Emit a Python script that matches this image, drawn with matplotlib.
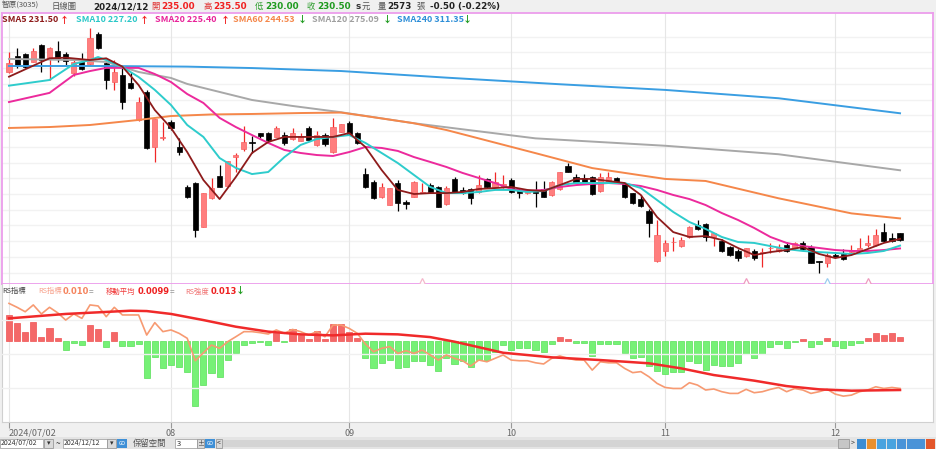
import matplotlib
matplotlib.use('Agg')
import matplotlib.pyplot as plt
from matplotlib.patches import Rectangle

plt.rcParams['font.family'] = ['Noto Sans CJK TC', 'DejaVu Sans']

# daily candles 2024/07/02 .. 2024/12/12
opens = [337.6, 347.8, 349.1, 344.0, 354.8, 346.5, 351.0, 349.1, 337.0, 344.0,
         342.7, 361.8, 343.3, 331.2, 335.7, 330.6, 307.1, 324.9, 289.9, 295.6,
         305.8, 289.9, 264.5, 267.0, 239.0, 257.5, 271.5, 265.1, 283.5, 288.6,
         293.1, 298.8, 298.8, 296.3, 297.5, 295.0, 293.7, 302.0, 291.2, 297.5,
         286.7, 299.4, 305.2, 298.8, 272.7, 267.6, 258.1, 253.0, 267.0, 254.9,
         258.1, 260.6, 265.7, 264.5, 253.6, 269.6, 262.6, 263.2, 261.3, 269.6,
         264.5, 264.5, 268.9, 262.6, 260.6, 262.6, 263.2, 259.4, 263.2, 277.8,
         270.8, 270.2, 270.8, 261.9, 267.6, 270.2, 267.0, 260.6, 256.8, 249.2,
         217.4, 223.8, 229.2, 226.9, 232.7, 240.3, 240.9, 232.7, 230.1, 226.3,
         223.8, 220.6, 223.8, 222.5, 225.4, 223.8, 227.6, 225.7, 228.9, 226.3,
         217.4, 216.1, 221.2, 221.9, 223.1, 224.4, 227.6, 227.6, 235.8, 232.0,
         235.0]
highs = [350.3, 352.9, 349.7, 352.9, 355.4, 353.5, 357.3, 350.3, 345.2, 349.7,
         365.6, 363.0, 344.0, 345.2, 340.2, 337.6, 321.7, 326.2, 307.7, 305.8,
         307.1, 295.6, 265.7, 267.6, 260.6, 270.2, 278.5, 281.0, 286.1, 303.3,
         296.9, 298.8, 299.4, 303.3, 299.4, 302.0, 298.8, 303.3, 300.1, 298.8,
         308.4, 304.5, 306.4, 299.4, 276.6, 268.9, 267.0, 263.8, 268.9, 256.2,
         268.3, 267.0, 267.0, 265.1, 265.1, 270.8, 264.5, 263.8, 272.1, 270.2,
         274.0, 272.1, 270.2, 263.8, 263.2, 268.3, 268.3, 268.3, 274.0, 279.7,
         272.7, 272.7, 271.5, 273.4, 274.0, 270.8, 267.0, 260.6, 259.4, 250.5,
         243.5, 230.8, 232.7, 232.7, 239.7, 243.5, 241.6, 235.2, 231.4, 226.9,
         225.0, 225.7, 225.0, 225.7, 228.9, 228.2, 229.5, 229.5, 230.1, 227.6,
         217.4, 222.5, 223.1, 225.0, 227.6, 232.0, 233.9, 237.8, 241.6, 235.2,
         235.5]
lows = [337.0, 340.2, 340.2, 344.0, 337.6, 332.5, 344.0, 342.1, 335.1, 338.9,
        342.1, 352.2, 326.8, 326.2, 314.1, 326.8, 306.4, 288.6, 280.4, 294.4,
        300.7, 284.8, 257.5, 232.7, 239.0, 256.8, 264.5, 265.1, 274.0, 287.4,
        286.1, 295.6, 293.7, 296.3, 291.2, 294.4, 293.7, 293.7, 290.5, 290.5,
        286.1, 299.4, 297.5, 291.8, 263.8, 256.8, 257.5, 253.0, 249.2, 250.5,
        258.1, 260.6, 260.6, 251.7, 253.0, 260.6, 260.0, 253.6, 260.6, 263.8,
        264.5, 263.8, 260.6, 257.5, 260.0, 251.7, 258.1, 258.7, 262.6, 274.0,
        267.6, 267.0, 259.4, 261.3, 267.0, 267.0, 257.5, 253.6, 251.7, 232.7,
        216.8, 220.6, 223.8, 226.3, 232.0, 237.1, 230.1, 226.9, 223.1, 220.6,
        217.4, 220.0, 218.0, 213.6, 222.5, 223.1, 223.1, 225.0, 224.4, 216.1,
        209.8, 213.6, 219.3, 218.0, 222.5, 223.8, 226.3, 226.9, 229.5, 229.5,
        230.0]
closes = [343.3, 342.1, 340.8, 351.0, 345.2, 352.9, 346.5, 344.6, 344.0, 339.5,
          359.2, 352.9, 332.5, 337.6, 318.5, 327.4, 318.5, 289.3, 307.7, 296.3,
          302.0, 286.7, 258.1, 237.1, 260.6, 263.8, 264.5, 281.0, 284.8, 293.1,
          292.5, 296.9, 294.4, 302.0, 292.5, 298.8, 296.9, 294.4, 297.5, 291.8,
          302.6, 304.5, 298.2, 292.5, 264.5, 257.5, 264.5, 263.8, 254.3, 253.6,
          267.6, 261.3, 261.3, 251.7, 263.8, 260.6, 260.6, 257.5, 265.7, 264.5,
          267.6, 266.4, 261.3, 260.6, 262.6, 260.6, 258.1, 267.6, 274.0, 274.0,
          267.6, 267.0, 260.0, 270.8, 270.8, 267.0, 258.1, 254.3, 252.4, 241.6,
          233.9, 228.9, 229.5, 230.8, 239.0, 237.8, 232.7, 235.2, 223.8, 221.2,
          219.3, 225.7, 219.3, 223.1, 225.7, 225.7, 223.8, 228.9, 225.0, 216.1,
          217.1, 221.2, 219.9, 218.7, 224.4, 225.7, 228.9, 233.9, 230.1, 230.1,
          230.5]

tick_idx = [0, 20, 42, 62, 81, 102]
tick_labels = ['2024/07/02', '08', '09', '10', '11', '12']

# moving averages (day index, price)
sma5_idx = [0, 5, 7, 10, 12, 14] + list(range(16, 111, 2))
sma5 = [334.6, 346.3, 346.7, 345.2, 346.3, 341.0,
        329.3, 313.4, 302.0, 286.7, 268.9, 256.8, 270.8, 286.1, 293.1, 296.3,
        296.3, 296.3, 296.3, 298.8, 289.9, 275.3, 262.6, 260.0, 260.6, 260.6,
        261.3, 263.2, 263.8, 264.5, 262.6, 261.9, 265.7, 269.6, 269.6, 268.3,
        267.0, 259.4, 245.4, 235.8, 232.7, 233.3, 230.8, 225.7, 221.2, 223.1,
        224.4, 226.3, 221.9, 219.3, 221.2, 225.0, 228.9, 231.5]
sma10_idx = [0, 5, 8, 10, 11, 12, 14] + list(range(16, 111, 2))
sma10 = [328.9, 332.5, 342.7, 345.2, 347.1, 345.2, 340.8,
         334.4, 326.2, 316.6, 303.9, 296.3, 282.9, 276.6, 272.7, 274.0, 283.5,
         291.2, 295.0, 296.3, 297.5, 292.5, 286.1, 279.7, 272.1, 264.5, 260.6,
         260.6, 261.3, 262.6, 262.6, 261.3, 261.9, 265.7, 267.0, 267.0, 267.0,
         267.0, 263.8, 256.2, 248.6, 242.2, 237.8, 232.7, 229.5, 228.9, 226.9,
         225.0, 223.8, 223.1, 222.5, 221.9, 222.5, 223.8, 227.2]
sma20_idx = [0, 5, 8, 10, 12, 14] + list(range(16, 111, 2))
sma20 = [318.5, 324.3, 335.7, 338.2, 340.2, 340.2,
         340.2, 336.3, 331.2, 323.6, 317.9, 308.4, 302.6, 297.5, 292.5, 288.0,
         286.1, 284.8, 284.2, 286.7, 289.9, 289.3, 287.4, 283.5, 280.4, 277.2,
         273.4, 270.2, 267.0, 263.2, 261.9, 262.6, 264.5, 265.7, 266.4, 267.0,
         266.4, 265.1, 262.6, 259.4, 256.8, 253.0, 247.9, 243.5, 238.4, 232.7,
         228.9, 226.9, 225.7, 224.4, 223.8, 223.8, 224.4, 225.4]
sma60_idx = [0, 5, 10, 16, 20, 25, 30, 36, 41, 44, 50, 54, 65, 72, 81, 86, 95, 104, 110]
sma60 = [302.0, 302.6, 303.9, 307.1, 309.6, 310.6, 310.9, 311.5, 311.8, 309.6,
         305.0, 300.7, 286.0, 276.5, 269.6, 268.3, 257.3, 247.7, 244.5]
sma120_idx = [0, 8, 12, 16, 20, 22, 26, 30, 35, 41, 50, 65, 81, 95, 110]
sma120 = [345.9, 345.2, 344.0, 337.6, 333.8, 330.0, 324.9, 319.8, 316.0, 312.0,
          305.0, 295.4, 290.7, 285.3, 275.1]
sma240_idx = [0, 12, 22, 30, 41, 54, 68, 81, 95, 110]
sma240 = [341.4, 341.4, 341.0, 340.1, 338.2, 334.0, 329.8, 326.2, 320.9, 311.35]

event_idx = [51, 91, 101, 106]
event_colors = ['#F4B8CC', '#EE9CC0', '#9CCDF0', '#EE9CC0']

# RS indicator (price / index), its moving average and the difference bars
rs_line = [0.01499, 0.01476, 0.01450, 0.01490, 0.01437, 0.01476, 0.01444, 0.01401, 0.01437, 0.01411,
           0.01490, 0.01484, 0.01421, 0.01476, 0.01431, 0.01431, 0.01431, 0.01313, 0.01386, 0.01333,
           0.01343, 0.01323, 0.01294, 0.01162, 0.01209, 0.01254, 0.01235, 0.01274, 0.01303, 0.01333,
           0.01333, 0.01327, 0.01319, 0.01343, 0.01323, 0.01346, 0.01333, 0.01313, 0.01333, 0.01303,
           0.01372, 0.01372, 0.01352, 0.01323, 0.01260, 0.01215, 0.01235, 0.01245, 0.01205, 0.01221,
           0.01205, 0.01225, 0.01196, 0.01166, 0.01196, 0.01176, 0.01162, 0.01131, 0.01166, 0.01156,
           0.01176, 0.01196, 0.01166, 0.01162, 0.01162, 0.01150, 0.01143, 0.01176, 0.01190, 0.01176,
           0.01166, 0.01166, 0.01107, 0.01156, 0.01150, 0.01150, 0.01117, 0.01092, 0.01098, 0.01068,
           0.01029, 0.01005, 0.00999, 0.00999, 0.01033, 0.01019, 0.00990, 0.00996, 0.00980, 0.00970,
           0.00970, 0.00994, 0.00974, 0.00980, 0.00994, 0.01005, 0.00980, 0.00999, 0.00990, 0.00970,
           0.00980, 0.00994, 0.00966, 0.00954, 0.00960, 0.00980, 0.00990, 0.01009, 0.00999, 0.01005,
           0.00999]
rs_ma_idx = [0, 7, 15, 17, 20, 24, 28, 32, 36, 40, 44, 48, 52, 55, 61, 67, 73, 79, 83, 87, 92, 96, 100, 104, 110]
rs_ma = [0.01411, 0.01437, 0.01456, 0.01454, 0.01437, 0.01401, 0.01362, 0.01333, 0.01317, 0.01311,
         0.01321, 0.01317, 0.01301, 0.01274, 0.01209, 0.01182, 0.01166, 0.01147, 0.01117, 0.01078,
         0.01045, 0.01013, 0.00994, 0.00986, 0.00990]
rs_diff = [0.00090, 0.00061, 0.00032, 0.00067, 0.00014, 0.00043, 0.00008, -0.00033, -0.00007, -0.00015,
           0.00055, 0.00040, -0.00021, 0.00029, -0.00019, -0.00019, -0.00012, -0.00132, -0.00056, -0.00097,
           -0.00085, -0.00091, -0.00109, -0.00229, -0.00155, -0.00112, -0.00126, -0.00068, -0.00044, -0.00015,
           -0.00007, -0.00006, -0.00015, 0.00026, -0.00004, 0.00040, 0.00020, 0.00005, 0.00035, 0.00005,
           0.00057, 0.00057, 0.00032, 0.00008, -0.00060, -0.00097, -0.00077, -0.00068, -0.00097, -0.00093,
           -0.00070, -0.00070, -0.00085, -0.00106, -0.00062, -0.00082, -0.00071, -0.00091, -0.00068, -0.00068,
           -0.00039, -0.00015, -0.00033, -0.00027, -0.00027, -0.00033, -0.00039, -0.00012, 0.00014, 0.00005,
           -0.00007, -0.00009, -0.00054, -0.00012, -0.00012, -0.00012, -0.00044, -0.00062, -0.00056, -0.00089,
           -0.00105, -0.00117, -0.00109, -0.00109, -0.00070, -0.00077, -0.00103, -0.00085, -0.00089, -0.00089,
           -0.00079, -0.00047, -0.00062, -0.00047, -0.00023, -0.00012, -0.00027, -0.00004, 0.00005, -0.00021,
           -0.00013, 0.00008, -0.00019, -0.00027, -0.00015, -0.00007, 0.00008, 0.00028, 0.00020, 0.00026,
           0.00014]

W, H = 936, 449
fig = plt.figure(figsize=(W / 100, H / 100), dpi=100)
fig.patch.set_facecolor('#F0F0F0')


def box(x, y, w, h, fc, ec='none', lw=0.6):
    fig.add_artist(Rectangle((x / W, 1 - (y + h) / H), w / W, h / H, transform=fig.transFigure,
                             facecolor=fc, edgecolor=ec, linewidth=lw))


def label(x, y, s, color, size, weight='normal', ha='left', family=None):
    kw = {'family': family} if family else {}
    fig.text(x / W, 1 - y / H, s, color=color, fontsize=size, fontweight=weight,
             ha=ha, va='center', **kw)


days = list(range(len(closes)))
xlim = (-0.864, 114.07)

# ---- price panel
ax = fig.add_axes([2 / W, 1 - 284 / H, 931 / W, 271 / H])
ax.set_facecolor('white')
ax.set_xlim(*xlim)
ax.set_ylim(202.8, 375.1)
ax.set_xticks([])
ax.set_yticks([])
for s in ax.spines.values():
    s.set_color('#EC9DEC')
    s.set_linewidth(1.3)
for p in range(210, 370, 10):
    ax.axhline(p, color='#F2F2F2', lw=1, zorder=0)
for t in tick_idx:
    ax.axvline(t, color='#E6E6E6', lw=0.8, zorder=0)

up = [c >= o for o, c in zip(opens, closes)]
wick_c = ['#F02828' if u else 'black' for u in up]
body_c = ['#FF7E7E' if u else 'black' for u in up]
edge_c = ['#F86060' if u else 'black' for u in up]
ax.vlines(days, lows, highs, colors=wick_c, lw=0.9, zorder=2)
ax.bar(days, [max(abs(c - o), 0.45) for o, c in zip(opens, closes)],
       bottom=[min(o, c) for o, c in zip(opens, closes)], width=0.64,
       color=body_c, edgecolor=edge_c, linewidth=0.5, zorder=3)

ax.plot(sma240_idx, sma240, color='#3A9EE2', lw=1.4, zorder=4)
ax.plot(sma120_idx, sma120, color='#A8A8A8', lw=1.4, zorder=4)
ax.plot(sma60_idx, sma60, color='#F5874A', lw=1.4, zorder=4)
ax.plot(sma20_idx, sma20, color='#EC2A9C', lw=1.4, zorder=4)
ax.plot(sma10_idx, sma10, color='#2ECCCC', lw=1.4, zorder=4)
ax.plot(sma5_idx, sma5, color='#8E1B1B', lw=1.3, zorder=5)
for e, c in zip(event_idx, event_colors):
    ax.plot(e, 204.6, marker='^', ms=4.5, mfc='white', mec=c, mew=0.9, zorder=6)

# ---- RS panel
ax_rs = fig.add_axes([2 / W, 1 - 422 / H, 931 / W, 138 / H])
ax_rs.set_facecolor('white')
ax_rs.set_xlim(*xlim)
ax_rs.set_ylim(-0.002846, 0.001985)
ax_rs.set_yticks([])
ax_rs.spines['top'].set_visible(False)
for k in ['left', 'right', 'bottom']:
    ax_rs.spines[k].set_color('#D0D0D0')
for t in tick_idx:
    ax_rs.axvline(t, color='#E6E6E6', lw=0.8, zorder=0)
ax_rs.bar(days, rs_diff, width=0.75,
          color=['#F46868' if d >= 0 else '#76F176' for d in rs_diff],
          edgecolor=['#EE5252' if d >= 0 else '#58E058' for d in rs_diff],
          linewidth=0.5, zorder=2)
ax_rs.set_xticks(tick_idx)
ax_rs.set_xticklabels(tick_labels)
ax_rs.tick_params(axis='x', length=4, color='#999999', labelsize=6.5, labelcolor='#666666', pad=1)
first = ax_rs.get_xticklabels()[0]
first.set_ha('left')

ax_rl = ax_rs.twinx()
ax_rl.set_ylim(0.00802, 0.01613)
ax_rl.set_yticks([])
for s in ax_rl.spines.values():
    s.set_visible(False)
for g in [0.010, 0.012, 0.014]:
    ax_rl.axhline(g, color='#F0F0F0', lw=1, zorder=0)
ax_rl.plot(days, rs_line, color='#F79A72', lw=1.2, zorder=3)
ax_rl.plot(rs_ma_idx, rs_ma, color='#F02A2A', lw=1.8, zorder=4)

# ---- header
num = 'DejaVu Sans'
label(2, 6, '智原(3035)', '#555555', 5.5)
label(52, 6, '日線圖', '#555555', 6)
label(93, 6.5, '2024/12/12', '#222222', 6.3, 'bold', family=num)
for x, s, c in [(151, '開', '#E03030'), (203, '高', '#E03030'),
                (255, '低', '#2E9E2E'), (307, '收', '#2E9E2E'),
                (362, '元', '#555555'), (378, '量', '#555555'), (416, '張', '#555555')]:
    label(x, 6, s, c, 6)
for x, s, c in [(161, '235.00', '#F02020'), (213, '235.50', '#F02020'),
                (265, '230.00', '#1E9A1E'), (317, '230.50', '#1E9A1E'),
                (356, 's', '#333333'), (387, '2573', '#222222'),
                (430, '-0.50 (-0.22%)', '#222222')]:
    label(x, 6.5, s, c, 6.3, 'bold', family=num)

for x, s, c, ax_x, arr, ac in [(2, 'SMA5 231.50', '#8E1B1B', 60, '↑', '#F02020'),
                               (76, 'SMA10 227.20', '#2CC8C8', 140, '↑', '#F02020'),
                               (155, 'SMA20 225.40', '#E8259A', 221, '↑', '#F02020'),
                               (233, 'SMA60 244.53', '#F5874A', 298, '↓', '#1E9A1E'),
                               (312, 'SMA120 275.09', '#A0A0A0', 383, '↓', '#1E9A1E'),
                               (397, 'SMA240 311.35', '#2E8FD8', 463, '↓', '#1E9A1E')]:
    label(x, 20, s, c, 6.5, 'bold')
    label(ax_x, 20, arr, ac, 6.5, 'bold')

label(2, 291.5, 'RS指標', '#444444', 5.3)
label(38, 291.5, 'RS指標', '#F7A08A', 5.3)
label(63, 292, '0.010', '#F5845E', 6, 'bold', family=num)
label(89, 291.5, '=', '#999999', 6)
label(106, 291.5, '移動平均', '#F03A3A', 5.3)
label(138, 292, '0.0099', '#EE2020', 6, 'bold', family=num)
label(170, 291.5, '=', '#999999', 6)
label(185, 291.5, 'RS強度', '#F07070', 5.3)
label(211, 292, '0.013', '#EE2020', 6, 'bold', family=num)
label(236, 291.5, '↓', '#1E9A1E', 6.5, 'bold')

# ---- bottom toolbar
box(0, 437, 936, 12, '#E4E4E4')
box(0, 439, 43, 9, 'white', '#A8A8A8')
label(1, 443.5, '2024/07/02', '#333333', 5)
box(44, 439, 9, 9, '#DADADA', '#999999')
label(48.5, 443.5, '▾', '#333333', 5, ha='center')
label(56, 443.5, '~', '#333333', 6)
box(63, 439, 44, 9, 'white', '#A8A8A8')
label(64, 443.5, '2024/12/12', '#333333', 5)
box(107, 439, 9, 9, '#DADADA', '#999999')
label(111.5, 443.5, '▾', '#333333', 5, ha='center')
box(117, 439, 10, 9, '#3E8FD6')
label(122, 443.5, 'GO', 'white', 3.5, ha='center')
label(133, 443.5, '保留空間', '#555555', 6)
box(175, 439, 22, 9, 'white', '#A8A8A8')
label(177, 443.5, '3', '#333333', 5.5)
box(197, 439, 7, 9, '#DADADA', '#999999')
label(200.5, 443.5, '±', '#333333', 5, ha='center')
box(205, 439, 10, 9, '#3E8FD6')
label(210, 443.5, 'GO', 'white', 3.5, ha='center')
box(216, 439, 6, 9, '#DADADA', '#999999')
label(219, 443.5, '<', '#333333', 5, ha='center')
box(223, 440, 615, 7, '#D4D4D4')
box(838, 439, 11, 9, '#C6C6C6', '#999999')
label(853, 443.5, '>', '#333333', 5, ha='center')
for k, c in enumerate(['#3C8DD3', '#E8902E', '#4AA3DF', '#4AA3DF',
                       '#4A93D8', '#4A93D8', '#4A93D8', '#E3562A']):
    box(857 + k * 9.9, 438.5, 9, 10, c)

fig.savefig('out.png', dpi=100, facecolor=fig.get_facecolor())
